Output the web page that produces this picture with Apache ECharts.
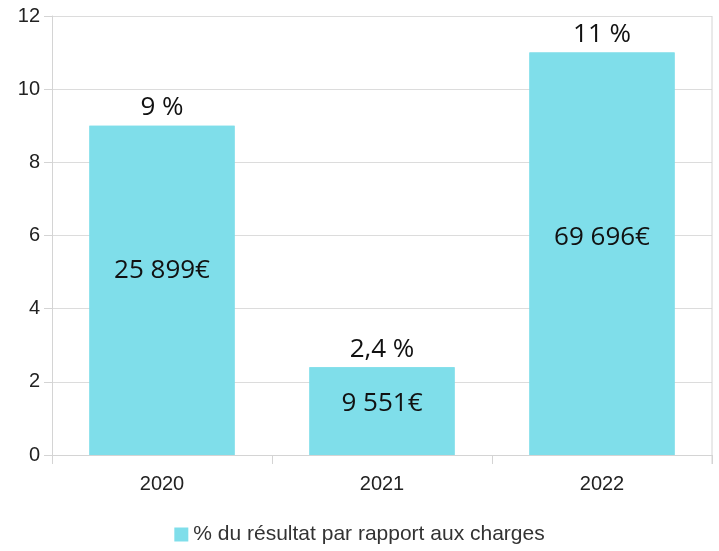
<!DOCTYPE html>
<html>
<head>
<meta charset="utf-8">
<script src="https://cdn.jsdelivr.net/npm/echarts@6/dist/echarts.min.js"></script>
<style>
  html, body { margin: 0; padding: 0; background: #fff; }
  #chart { width: 719px; height: 551px; }
</style>
</head>
<body>
<div id="chart"></div>
<script>
// données
const years = ["2020", "2021", "2022"];
const percent = [9, 2.4, 11];
const percentLabels = ["9 %", "2,4 %", "11 %"];
const amounts = ["25 899€", "9 551€", "69 696€"];
const amountOffsets = [-20, -8, -16]; // décalage du texte dans la barre
const yTicks = [0, 2, 4, 6, 8, 10, 12];

const chart = echarts.init(document.getElementById("chart"));

const barColor = "#7fdeea";
const txtFont = "'Open Sans', 'DejaVu Sans', sans-serif";
const axisFont = "'Liberation Sans', Arial, sans-serif";

// série principale : barres + étiquette du haut
const barData = percent.map((v, i) => ({
  value: v,
  label: {
    show: true,
    position: "top",
    distance: 5,
    formatter: percentLabels[i],
    fontSize: 26,
    color: "#111",
    fontFamily: txtFont,
  },
}));

// même barres, juste pour les montants à l'intérieur
const amountData = percent.map((v, i) => ({
  value: v,
  label: {
    show: true,
    position: "inside",
    offset: [0, amountOffsets[i]],
    formatter: amounts[i],
    fontSize: 26,
    color: "#111",
    fontFamily: txtFont,
  },
}));

const option = {
  animation: false,
  grid: { left: 52, right: 7, top: 16, bottom: 96, containLabel: false },
  legend: {
    bottom: 1,
    left: "center",
    itemWidth: 14,
    itemHeight: 14,
    itemGap: 6,
    icon: "rect",
    textStyle: { fontSize: 21, color: "#333", fontFamily: axisFont },
    data: ["% du résultat par rapport aux charges"],
  },
  xAxis: {
    type: "category",
    data: years,
    axisLine: { lineStyle: { color: "#d4d4d4" } },
    axisTick: { show: true, length: 9, lineStyle: { color: "#d4d4d4" } },
    axisLabel: { fontSize: 20, color: "#222", margin: 19, fontFamily: axisFont },
    splitLine: { show: false },
  },
  yAxis: {
    type: "value",
    min: yTicks[0],
    max: yTicks[yTicks.length - 1],
    interval: 2,
    axisLine: { show: true, lineStyle: { color: "#d4d4d4" } },
    axisTick: { show: true, length: 8, lineStyle: { color: "#d4d4d4" } },
    axisLabel: { fontSize: 20, color: "#222", margin: 12, fontFamily: axisFont },
    splitLine: { lineStyle: { color: "#dcdcdc" } },
  },
  series: [
    {
      name: "% du résultat par rapport aux charges",
      type: "bar",
      data: barData,
      barWidth: "66%",
      itemStyle: { color: barColor },
    },
    {
      name: "montants",
      type: "bar",
      data: amountData,
      barWidth: "66%",
      barGap: "-100%",
      itemStyle: { color: barColor },
      z: 3,
    },
  ],
};

chart.setOption(option);

// bordure droite du cadre
chart.setOption({
  graphic: [{
    type: "line",
    shape: { x1: 712, y1: 16, x2: 712, y2: 464 },
    style: { stroke: "#d4d4d4", lineWidth: 1 },
  }],
});
</script>
</body>
</html>
